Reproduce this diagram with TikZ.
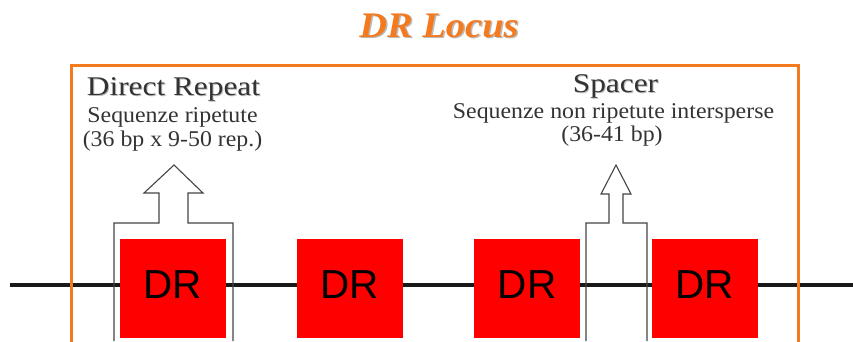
\documentclass[tikz,border=0pt]{standalone}
\usepackage{fontspec}
\setmainfont{Liberation Serif}
\newfontfamily\arialf{Liberation Sans}
\definecolor{frameorange}{HTML}{F47A20}
\definecolor{txtgray}{HTML}{333333}
\definecolor{shadowgray}{HTML}{BBBBBB}
\definecolor{linegray}{HTML}{444444}
\begin{document}
\begin{tikzpicture}[x=1pt,y=-1pt,
  drbox/.style={fill=red,draw=none,minimum width=106pt,minimum height=99pt,inner sep=0pt},
  drtext/.style={font=\arialf\fontsize{40.5}{42}\selectfont,text=black,inner sep=0pt},
  head/.style={font=\fontsize{27}{30}\selectfont,text=txtgray,inner sep=0pt,anchor=base},
  sub/.style={font=\fontsize{22.5}{25}\selectfont,text=txtgray,inner sep=0pt,anchor=base},
  blockarrow/.style={draw=linegray,line width=1.1pt,line join=miter},
  dna/.style={draw=black!90,line width=4.5pt},
  frame/.style={draw=frameorange,line width=3pt}]
\useasboundingbox (0,0) rectangle (853,341);
% DNA line
\coordinate (dnaL) at (10,285);
\coordinate (dnaR) at (860,285);
\draw[dna] (dnaL) -- (dnaR);
% red DR boxes
\node[drbox] (dr1) at (173,288.5) {};
\node[drbox] (dr2) at (350,288.5) {};
\node[drbox] (dr3) at (527,288.5) {};
\node[drbox] (dr4) at (704.5,288.5) {};
\node[drtext] (dr1t) at (173,285) {DR};
\node[drtext] (dr2t) at (350,285) {DR};
\node[drtext] (dr3t) at (527,285) {DR};
\node[drtext] (dr4t) at (704.5,285) {DR};
% block arrows
\draw[blockarrow] (114,341) -- (114,223) -- (159,223) -- (159,193) -- (144,193) -- (174,165) -- (203,193) -- (188,193) -- (188,223) -- (233,223) -- (233,341);
\draw[blockarrow] (586,341) -- (586,223) -- (609,223) -- (609,194) -- (601,194) -- (616,165) -- (631,194) -- (623,194) -- (623,223) -- (647,223) -- (647,341);
% orange frame
\draw[frame] (71,345) -- (71,65) -- (798,65) -- (798,345);
% title
\node[anchor=base,inner sep=0pt,text=shadowgray,font=\bfseries\itshape\fontsize{36}{40}\selectfont] (titleshadow) at (440.5,38.5) {\scalebox{1.07}[1]{DR Locus}};
\node[anchor=base,inner sep=0pt,text=frameorange,font=\bfseries\itshape\fontsize{36}{40}\selectfont] (title) at (439,37) {\scalebox{1.07}[1]{DR Locus}};
% left labels
\node[head,text=shadowgray] (drhs) at (174.5,96.5) {\scalebox{1.16}[1]{Direct Repeat}};
\node[head] (drh) at (173.5,95) {\scalebox{1.16}[1]{Direct Repeat}};
\node[sub] (drs1) at (172.5,122) {\scalebox{1.06}[1]{Sequenze ripetute}};
\node[sub] (drs2) at (172.5,146) {\scalebox{1.06}[1]{(36 bp x 9-50 rep.)}};
% right labels
\node[head,text=shadowgray] (sphs) at (616.5,93.5) {\scalebox{1.16}[1]{Spacer}};
\node[head] (sph) at (615.5,92) {\scalebox{1.16}[1]{Spacer}};
\node[sub] (sps1) at (613.5,118.5) {\scalebox{1.06}[1]{Sequenze non ripetute intersperse}};
\node[sub] (sps2) at (612,141.5) {\scalebox{1.06}[1]{(36-41 bp)}};
\end{tikzpicture}
\end{document}
